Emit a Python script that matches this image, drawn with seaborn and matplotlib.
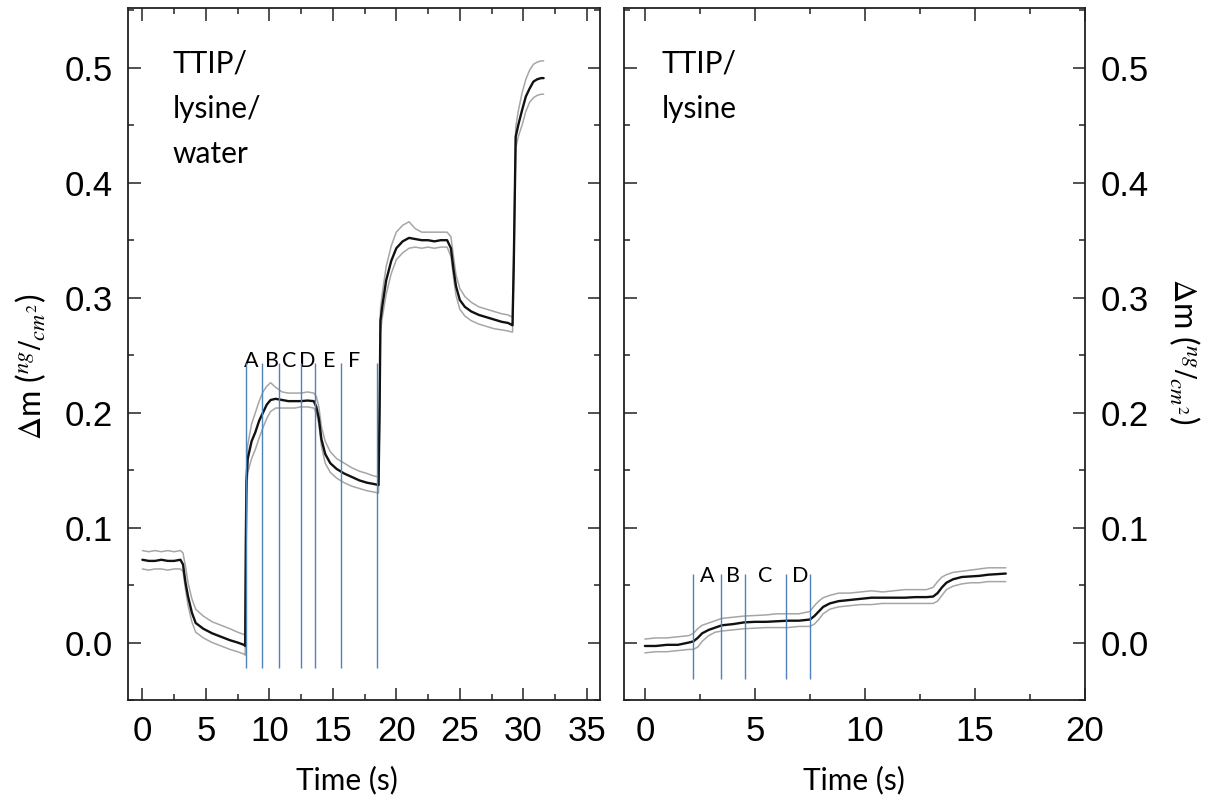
import matplotlib
matplotlib.use("Agg")
import matplotlib.pyplot as plt
from matplotlib.ticker import MultipleLocator
import seaborn as sns

# ---- data ----
# left panel: TTIP / lysine / water
left_t = [0.0, 0.5, 1.0, 1.5, 2.0, 2.5, 3.0, 3.2, 3.4, 3.6, 3.9, 4.2, 4.8, 5.5, 6.2, 6.9, 7.5, 8.0,
          8.1, 8.15, 8.2, 8.3, 8.6, 8.9, 9.2, 9.5, 9.8, 10.1, 10.5, 11.0, 11.5, 12.0, 12.5, 13.0, 13.5,
          13.7, 13.9, 14.1, 14.4, 14.8, 15.3, 15.9, 16.5, 17.1, 17.7, 18.2, 18.6, 18.68, 18.75, 18.9,
          19.2, 19.6, 20.0, 20.5, 21.0, 21.5, 22.0, 22.5, 23.0, 23.5, 24.0, 24.3, 24.5, 24.7, 25.0,
          25.4, 25.9, 26.5, 27.1, 27.7, 28.3, 28.8, 29.15, 29.25, 29.4, 29.6, 29.9, 30.2, 30.5, 30.8,
          31.1, 31.4, 31.6]
left_mean = [0.072, 0.071, 0.071, 0.072, 0.071, 0.071, 0.072, 0.068, 0.052, 0.040, 0.026, 0.017,
             0.012, 0.008, 0.005, 0.002, 0.000, -0.002, -0.003, 0.090, 0.140, 0.160, 0.175, 0.183,
             0.193, 0.200, 0.207, 0.211, 0.212, 0.211, 0.210, 0.210, 0.210, 0.2105, 0.210, 0.205,
             0.195, 0.177, 0.164, 0.156, 0.151, 0.147, 0.144, 0.141, 0.139, 0.138, 0.137, 0.200,
             0.280, 0.293, 0.315, 0.332, 0.343, 0.349, 0.352, 0.351, 0.350, 0.350, 0.349, 0.350,
             0.350, 0.343, 0.325, 0.310, 0.298, 0.292, 0.288, 0.285, 0.283, 0.281, 0.279, 0.278,
             0.276, 0.330, 0.440, 0.450, 0.463, 0.475, 0.482, 0.488, 0.490, 0.491, 0.491]
left_upper = [0.080, 0.079, 0.080, 0.079, 0.080, 0.079, 0.080, 0.078, 0.066, 0.052, 0.038, 0.029,
              0.023, 0.018, 0.015, 0.012, 0.009, 0.007, 0.006, 0.100, 0.150, 0.172, 0.190, 0.200,
              0.210, 0.218, 0.223, 0.226, 0.222, 0.218, 0.217, 0.217, 0.217, 0.218, 0.217, 0.214,
              0.205, 0.188, 0.175, 0.166, 0.160, 0.156, 0.152, 0.149, 0.147, 0.145, 0.144, 0.210,
              0.290, 0.304, 0.327, 0.345, 0.357, 0.363, 0.366, 0.360, 0.357, 0.357, 0.357, 0.357,
              0.357, 0.353, 0.336, 0.320, 0.308, 0.301, 0.296, 0.292, 0.290, 0.288, 0.286, 0.285,
              0.283, 0.340, 0.448, 0.462, 0.478, 0.490, 0.498, 0.503, 0.505, 0.506, 0.506]
left_lower = [0.064, 0.063, 0.064, 0.064, 0.063, 0.064, 0.064, 0.062, 0.046, 0.032, 0.018, 0.009,
              0.004, 0.000, -0.003, -0.006, -0.008, -0.010, -0.011, 0.080, 0.130, 0.148, 0.160, 0.168,
              0.178, 0.187, 0.195, 0.201, 0.204, 0.204, 0.204, 0.204, 0.205, 0.205, 0.204, 0.200,
              0.190, 0.171, 0.156, 0.148, 0.143, 0.139, 0.136, 0.134, 0.132, 0.131, 0.130, 0.190,
              0.270, 0.283, 0.303, 0.321, 0.333, 0.339, 0.343, 0.344, 0.343, 0.344, 0.343, 0.344,
              0.344, 0.336, 0.318, 0.302, 0.290, 0.284, 0.280, 0.277, 0.275, 0.273, 0.272, 0.271,
              0.270, 0.320, 0.430, 0.440, 0.450, 0.462, 0.470, 0.474, 0.476, 0.477, 0.477]
left_marks = [8.17, 9.46, 10.74, 12.5, 13.6, 15.62, 18.48]
left_letters = ["A", "B", "C", "D", "E", "F"]
left_letter_x = [8.6, 10.2, 11.6, 13.0, 14.7, 16.7]

# right panel: TTIP / lysine
right_t = [0.0, 0.5, 1.0, 1.5, 2.0, 2.2, 2.4, 2.6, 2.9, 3.2, 3.5, 4.0, 4.5, 5.0, 5.5, 6.0, 6.5, 7.0,
           7.5, 7.7, 7.9, 8.1, 8.4, 8.8, 9.3, 9.8, 10.3, 10.8, 11.3, 11.8, 12.3, 12.8, 13.1, 13.3,
           13.5, 13.7, 14.0, 14.4, 14.8, 15.2, 15.6, 16.0, 16.4]
right_mean = [-0.003, -0.003, -0.002, -0.002, 0.000, 0.001, 0.004, 0.008, 0.011, 0.013, 0.015, 0.016,
              0.0175, 0.018, 0.018, 0.0185, 0.019, 0.019, 0.020, 0.023, 0.027, 0.031, 0.034, 0.036,
              0.037, 0.038, 0.039, 0.039, 0.039, 0.039, 0.0395, 0.0395, 0.040, 0.043, 0.048, 0.052,
              0.055, 0.057, 0.0575, 0.058, 0.059, 0.0595, 0.060]
right_upper = [0.003, 0.004, 0.004, 0.005, 0.006, 0.008, 0.012, 0.015, 0.017, 0.019, 0.021, 0.022,
               0.023, 0.0235, 0.024, 0.025, 0.025, 0.025, 0.027, 0.032, 0.036, 0.039, 0.041, 0.043,
               0.043, 0.044, 0.045, 0.044, 0.045, 0.046, 0.046, 0.046, 0.048, 0.053, 0.057, 0.059,
               0.061, 0.062, 0.063, 0.064, 0.065, 0.065, 0.065]
right_lower = [-0.009, -0.008, -0.008, -0.007, -0.006, -0.006, -0.004, 0.001, 0.006, 0.009, 0.010,
               0.011, 0.012, 0.0125, 0.013, 0.013, 0.013, 0.014, 0.014, 0.016, 0.020, 0.025, 0.029,
               0.031, 0.032, 0.033, 0.033, 0.034, 0.034, 0.034, 0.034, 0.034, 0.034, 0.036, 0.041,
               0.046, 0.049, 0.051, 0.052, 0.052, 0.053, 0.053, 0.053]
right_marks = [2.17, 3.45, 4.55, 6.42, 7.5]
right_letters = ["A", "B", "C", "D"]
right_letter_x = [2.83, 4.0, 5.45, 7.05]

# ---- style ----
sns.set_theme(style="ticks")
plt.rcParams["font.family"] = ["Liberation Sans", "DejaVu Sans"]
plt.rcParams["mathtext.fontset"] = "stix"
plt.rcParams["text.color"] = "black"
plt.rcParams["axes.labelcolor"] = "black"
plt.rcParams["xtick.labelcolor"] = "black"
plt.rcParams["ytick.labelcolor"] = "black"

LABEL_FONT = ["Lato", "DejaVu Sans"]
BLUE = "#4f81bd"
GREY = "#a6a6a6"

fig = plt.figure(figsize=(12.21, 8), dpi=100)
ax1 = fig.add_axes([128 / 1221, 100 / 800, 472 / 1221, 692 / 800])
ax2 = fig.add_axes([624 / 1221, 100 / 800, 461 / 1221, 692 / 800])


def draw_panel(ax, t, mean, upper, lower, marks, mark_top, mark_bottom, letters, letter_x, letter_y):
    sns.lineplot(x=t, y=upper, ax=ax, color=GREY, linewidth=1.1)
    sns.lineplot(x=t, y=lower, ax=ax, color=GREY, linewidth=1.1)
    sns.lineplot(x=t, y=mean, ax=ax, color="#111111", linewidth=1.7)
    ax.vlines(marks, mark_bottom, mark_top, color=BLUE, linewidth=1.0, zorder=5)
    for lab, lx in zip(letters, letter_x):
        ax.text(lx, letter_y, lab, ha="center", va="center", fontsize=15.5, family=LABEL_FONT)


draw_panel(ax1, left_t, left_mean, left_upper, left_lower, left_marks, 0.243, -0.022,
           left_letters, left_letter_x, 0.2445)
draw_panel(ax2, right_t, right_mean, right_upper, right_lower, right_marks, 0.0598, -0.0316,
           right_letters, right_letter_x, 0.0575)

ax1.set_xlim(-1.13, 36.04)
ax2.set_xlim(-0.95, 20.0)
for ax in (ax1, ax2):
    ax.set_ylim(-0.05, 0.552)
    ax.yaxis.set_major_locator(MultipleLocator(0.1))
    ax.yaxis.set_minor_locator(MultipleLocator(0.05))
    ax.xaxis.set_major_locator(MultipleLocator(5))
    ax.xaxis.set_minor_locator(MultipleLocator(2.5))
    ax.tick_params(which="both", direction="in", top=True, right=True, left=True, bottom=True,
                   width=1.1, color="#222222", labelsize=25, pad=11)
    ax.tick_params(which="major", length=9)
    ax.tick_params(which="minor", length=4.5)
    for sp in ax.spines.values():
        sp.set_linewidth(1.3)
        sp.set_color("#222222")
    ax.yaxis.set_major_formatter(plt.FuncFormatter(lambda v, p: f"{v:.1f}"))
    ax.set_xlabel("Time (s)", fontsize=21.5, family=LABEL_FONT)

ax2.tick_params(axis="y", which="both", labelleft=False, labelright=True)

ax1.xaxis.set_label_coords(0.464, -0.095)
ax2.xaxis.set_label_coords(0.498, -0.095)

ylab = r"$\Delta$m ($^{ng}/_{cm^2}$)"
ax1.set_ylabel(ylab, fontsize=23, family=LABEL_FONT)
ax1.yaxis.set_label_coords(-0.169, 0.481)
ax2.yaxis.set_label_position("right")
ax2.set_ylabel(ylab, fontsize=23, family=LABEL_FONT, rotation=270, va="bottom")
ax2.yaxis.set_label_coords(1.177, 0.504)

ax1.text(0.0945, 0.94, "TTIP/\nlysine/\nwater", transform=ax1.transAxes, ha="left", va="top",
         fontsize=21.5, family=LABEL_FONT, linespacing=1.75)
ax2.text(0.081, 0.94, "TTIP/\nlysine", transform=ax2.transAxes, ha="left", va="top",
         fontsize=21.5, family=LABEL_FONT, linespacing=1.75)

fig.savefig("out.png", dpi=100)
